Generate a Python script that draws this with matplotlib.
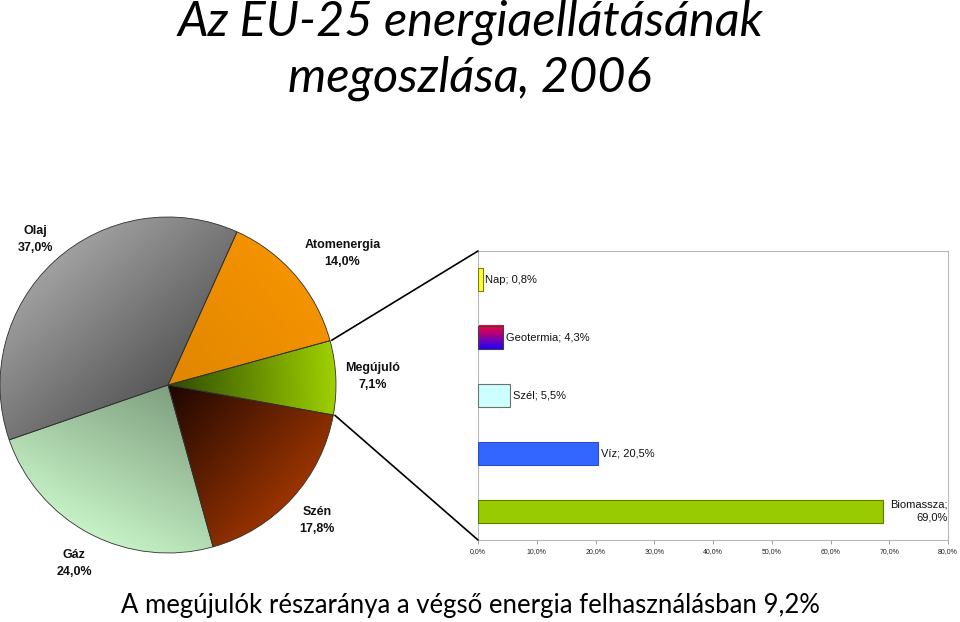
import numpy as np
import matplotlib
matplotlib.use("Agg")
import matplotlib.pyplot as plt
from matplotlib.patches import ConnectionPatch

# pie: share of EU-25 energy supply, 2006 (counter-clockwise from Megújuló)
pie_labels = ["Megújuló", "Atomenergia", "Olaj", "Gáz", "Szén"]
pie_values = [7.1, 14.0, 37.0, 24.0, 17.8]
# (dark near centre, light at rim)
pie_colors = [("#2c4a00", "#9fd000"),
              ("#e08600", "#f59300"),
              ("#585858", "#a0a0a0"),
              ("#7f9f7f", "#c6f2c6"),
              ("#1c0600", "#9a3400")]

# bar: breakdown of renewables
bar_labels = ["Nap", "Geotermia", "Szél", "Víz", "Biomassza"]
bar_values = [0.8, 4.3, 5.5, 20.5, 69.0]
bar_colors = ["#ffff33", None, "#ccffff", "#3366ff", "#99cc00"]
bar_edges = ["#808000", "#404040", "#707070", "#3050c0", "#607a00"]
xticks = [0, 10, 20, 30, 40, 50, 60, 70, 80]


def hu(v):
    return f"{v:.1f}".replace(".", ",") + "%"


W, H = 960, 622
fig = plt.figure(figsize=(9.6, 6.22), dpi=100)
fig.patch.set_facecolor("white")

# ---- pie ----
cx, cy, r = 168, 385, 168
axp = fig.add_axes([(cx - r) / W, (H - cy - r) / H, 2 * r / W, 2 * r / H])
axp.axis("off")

wedges, _ = axp.pie(pie_values, startangle=-10.3, counterclock=True,
                    radius=1.0, colors=["none"] * len(pie_values),
                    wedgeprops=dict(edgecolor="#303030", linewidth=0.6))
# pie() widens the limits, put them back so radius 1 fills the axes
axp.set_xlim(-1, 1)
axp.set_ylim(-1, 1)
axp.set_aspect("equal")

n = 400
gx, gy = np.meshgrid(np.linspace(-1, 1, n), np.linspace(-1, 1, n))
label_dist = [1.22, 1.3, 1.17, 1.2, 1.2]
label_turn = [0, -3.5, 0, 0, 0]   # small nudges, degrees
for w, (dark, light), lab, val, ld, dt in zip(wedges, pie_colors, pie_labels,
                                              pie_values, label_dist, label_turn):
    mid = np.deg2rad((w.theta1 + w.theta2) / 2)
    t = np.clip(gx * np.cos(mid) + gy * np.sin(mid), 0, 1)[..., None]
    d = np.array(matplotlib.colors.to_rgb(dark))
    l = np.array(matplotlib.colors.to_rgb(light))
    img = d + (l - d) * t
    im = axp.imshow(img, extent=(-1, 1, -1, 1), origin="lower", zorder=0.5)
    im.set_clip_path(w)
    w.set_zorder(1)
    la = mid + np.deg2rad(dt)
    axp.text(ld * np.cos(la), ld * np.sin(la), f"{lab}\n{hu(val)}",
             ha="center", va="center", fontsize=9, fontweight="bold",
             family="Liberation Sans", linespacing=1.55, color="#111111",
             clip_on=False)
axp.set_xlim(-1, 1)
axp.set_ylim(-1, 1)

# ---- bars ----
axb = fig.add_axes([478 / W, (H - 540) / H, 470 / W, 289 / H])
ypos = np.arange(len(bar_values))[::-1]
bh = 0.4
for y, v, c, e, lab in zip(ypos, bar_values, bar_colors, bar_edges, bar_labels):
    if c is None:
        grad = np.linspace(0, 1, 64)[:, None]
        top = np.array(matplotlib.colors.to_rgb("#ff0033"))
        bot = np.array(matplotlib.colors.to_rgb("#2200ff"))
        img = (bot + (top - bot) * grad)[:, None, :].repeat(2, axis=1)
        axb.imshow(img, extent=(0, v, y - bh / 2, y + bh / 2), origin="lower",
                   aspect="auto", zorder=2)
        axb.barh(y, v, height=bh, color="none", edgecolor=e, linewidth=0.8,
                 zorder=3)
    else:
        axb.barh(y, v, height=bh, color=c, edgecolor=e, linewidth=0.8, zorder=3)
    if lab == "Biomassza":
        axb.text(80, y, f"{lab};\n{hu(v)}", ha="right", va="center",
                 fontsize=8, family="Liberation Sans", linespacing=1.4,
                 color="#111111", clip_on=False)
    else:
        axb.text(v + 0.4, y, f"{lab}; {hu(v)}", ha="left", va="center",
                 fontsize=8, family="Liberation Sans", color="#111111")

axb.set_xlim(0, 80)
axb.set_ylim(-0.5, len(bar_values) - 0.5)
axb.set_xticks(xticks)
axb.set_xticklabels([hu(x) for x in xticks], fontsize=5,
                    family="Liberation Sans", color="#222222")
axb.tick_params(axis="x", length=3, width=0.6, color="#909090", pad=3)
axb.set_yticks([])
for s in axb.spines.values():
    s.set_color("#b8b8b8")
    s.set_linewidth(0.8)

# connector lines from the Megújuló wedge to the bar chart
wm = wedges[0]
for ang, corner in ((wm.theta2, (0, 1)), (wm.theta1, (0, 0))):
    a = np.deg2rad(ang)
    con = ConnectionPatch(xyA=(np.cos(a) * 1.01, np.sin(a) * 1.01),
                          coordsA=axp.transData,
                          xyB=corner, coordsB=axb.transAxes,
                          color="black", linewidth=1.2)
    fig.add_artist(con)

# ---- titles ----
fig.text(470 / W, 1 - 50 / H, "Az EU-25 energiaellátásának\nmegoszlása, 2006",
         ha="center", va="center", fontsize=35, style="italic",
         family="Lato", linespacing=1.3)
fig.text(470 / W, 1 - 606 / H,
         "A megújulók részaránya a végső energia felhasználásban 9,2%",
         ha="center", va="center", fontsize=18.5, family="Lato")

fig.savefig("out.png", dpi=100, facecolor="white")
